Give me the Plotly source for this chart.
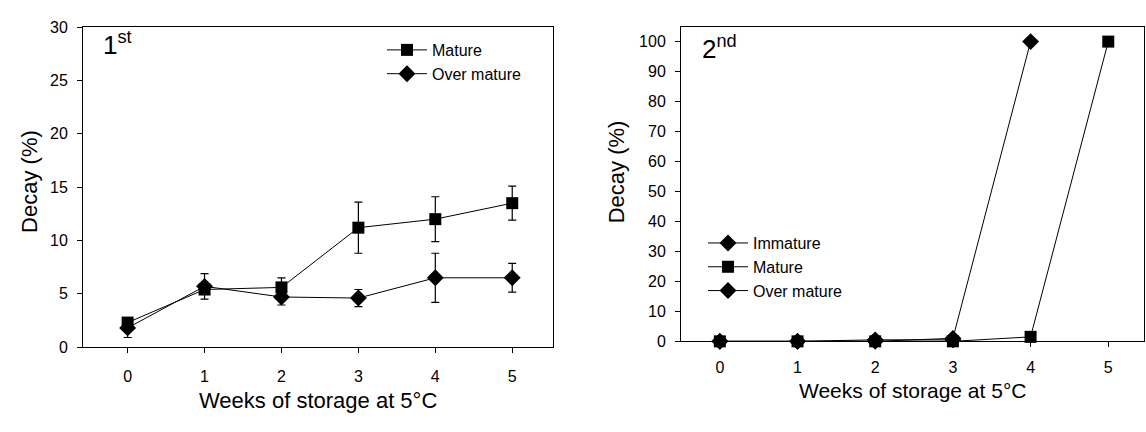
import plotly.graph_objects as go

# ---------------- data ----------------
weeks = [0, 1, 2, 3, 4, 5]

# 1st storage (left panel)
mature_1 = [2.3, 5.4, 5.6, 11.2, 12.0, 13.5]
mature_1_err = [0.3, 0.4, 0.9, 2.4, 2.1, 1.6]
over_1 = [1.8, 5.7, 4.7, 4.6, 6.5, 6.5]
over_1_err = [0.9, 1.2, 0.75, 0.8, 2.3, 1.35]

# 2nd storage (right panel)
weeks_immature_2 = [0, 1, 2, 3]
immature_2 = [0, 0, 0.5, 0.5]
mature_2 = [0, 0, 0, 0, 1.5, 100]
weeks_over_2 = [0, 1, 2, 3, 4]
over_2 = [0, 0, 0, 1, 100]

x_tick_labels = ["0", "1", "2", "3", "4", "5"]

# ---------------- layout helpers ----------------
W, H = 1146, 432
FONT = "Liberation Sans, Arial, sans-serif"


def fx(p):
    return p / W


def fy(p):
    return 1 - p / H


fig = go.Figure()

line_style = dict(color="black", width=1)
err_style = dict(type="data", visible=True, color="black", thickness=1.2, width=4)

fig.add_trace(go.Scatter(
    x=weeks, y=mature_1, name="Mature", mode="lines+markers",
    line=line_style, marker=dict(symbol="square", size=12, color="black"),
    error_y=dict(array=mature_1_err, **err_style),
    xaxis="x", yaxis="y", legend="legend", cliponaxis=False))
fig.add_trace(go.Scatter(
    x=weeks, y=over_1, name="Over mature", mode="lines+markers",
    line=line_style, marker=dict(symbol="diamond", size=13, color="black"),
    error_y=dict(array=over_1_err, **err_style),
    xaxis="x", yaxis="y", legend="legend", cliponaxis=False))

fig.add_trace(go.Scatter(
    x=weeks_immature_2, y=immature_2, name="Immature", mode="lines+markers",
    line=line_style, marker=dict(symbol="diamond", size=13, color="black"),
    xaxis="x2", yaxis="y2", legend="legend2", cliponaxis=False))
fig.add_trace(go.Scatter(
    x=weeks, y=mature_2, name="Mature", mode="lines+markers",
    line=line_style, marker=dict(symbol="square", size=12, color="black"),
    xaxis="x2", yaxis="y2", legend="legend2", cliponaxis=False))
fig.add_trace(go.Scatter(
    x=weeks_over_2, y=over_2, name="Over mature", mode="lines+markers",
    line=line_style, marker=dict(symbol="diamond", size=13, color="black"),
    xaxis="x2", yaxis="y2", legend="legend2", cliponaxis=False))

axis_common = dict(
    showline=True, mirror=True, linecolor="black", linewidth=1,
    ticks="outside", ticklen=5, tickwidth=1, tickcolor="black",
    showgrid=False, zeroline=False,
    tickfont=dict(family=FONT, size=16, color="black"),
)

legend_font = dict(family=FONT, size=16, color="black")

fig.update_layout(
    width=W, height=H,
    margin=dict(l=0, r=0, t=0, b=0),
    paper_bgcolor="white", plot_bgcolor="white",
    font=dict(family=FONT, color="black"),
    xaxis=dict(domain=[fx(83), fx(553)], range=[-0.58, 5.53],
               tickvals=weeks, ticktext=x_tick_labels, anchor="y",
               ticklabelstandoff=10, **axis_common),
    yaxis=dict(domain=[fy(353), fy(20)], range=[0, 30], dtick=5,
               anchor="x", ticklabelstandoff=6, **axis_common),
    xaxis2=dict(domain=[fx(681), fx(1144)], range=[-0.5, 5.46],
                tickvals=weeks, ticktext=x_tick_labels, anchor="y2",
                ticklabelstandoff=6, **axis_common),
    yaxis2=dict(domain=[fy(347), fy(20)], range=[0, 104.8], dtick=10,
                anchor="x2", ticklabelstandoff=6, **axis_common),
    legend=dict(x=fx(382), y=fy(26), xanchor="left", yanchor="top",
                bgcolor="rgba(0,0,0,0)", font=legend_font,
                tracegroupgap=0, itemwidth=40),
    legend2=dict(x=fx(703), y=fy(227), xanchor="left", yanchor="top",
                 bgcolor="rgba(0,0,0,0)", font=legend_font,
                 tracegroupgap=0, itemwidth=40),
    showlegend=True,
)

annotations = [
    dict(text="Weeks of storage at 5\u00b0C", x=fx(318), y=fy(409),
         font=dict(size=22)),
    dict(text="Weeks of storage at 5\u00b0C", x=fx(912), y=fy(398),
         font=dict(size=21)),
    dict(text="Decay (%)", x=fx(30), y=fy(181), textangle=-90,
         font=dict(size=22)),
    dict(text="Decay (%)", x=fx(616), y=fy(171), textangle=-90,
         font=dict(size=22)),
    dict(text="1<sup>st</sup>", x=fx(101), y=fy(18), xanchor="left",
         yanchor="top", font=dict(size=26)),
    dict(text="2<sup>nd</sup>", x=fx(700), y=fy(22), xanchor="left",
         yanchor="top", font=dict(size=26)),
]
for a in annotations:
    a.setdefault("xanchor", "center")
    a.setdefault("yanchor", "middle")
    fig.add_annotation(xref="paper", yref="paper", showarrow=False,
                       font_family=FONT, font_color="black", **a)

fig.write_html("out.html")
